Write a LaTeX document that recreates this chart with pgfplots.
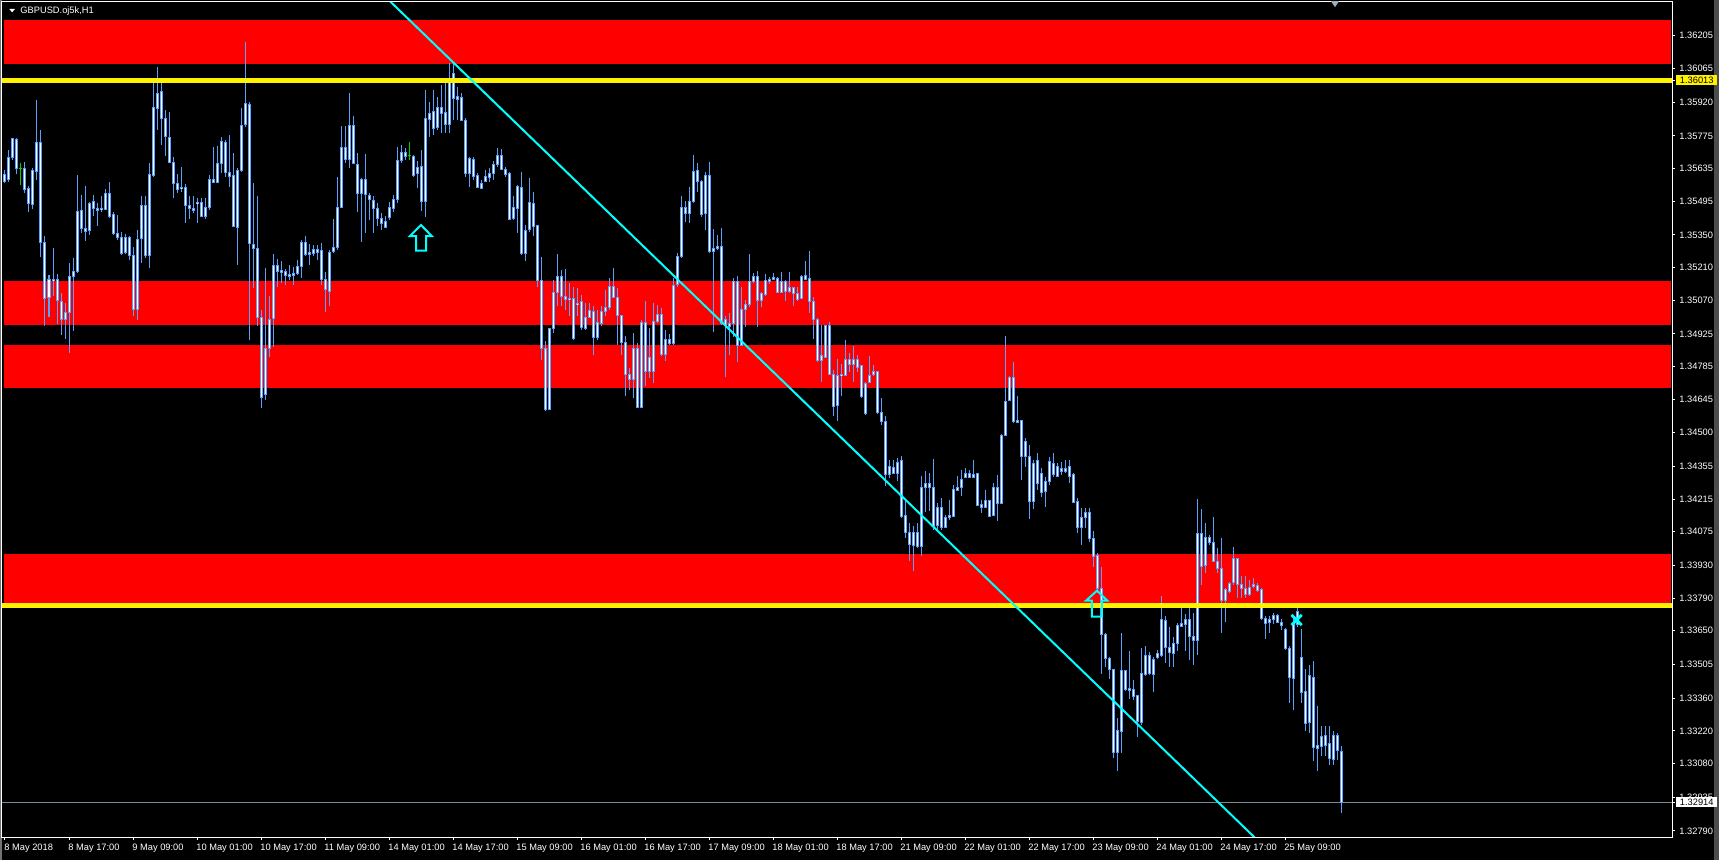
\documentclass[border=0pt]{standalone}
\usepackage{fontspec}
\setmainfont{Liberation Sans}
\usepackage{pgfplots}
\usepackage{pgfplotstable}
\pgfplotsset{compat=1.18}
\definecolor{candle}{RGB}{90,160,255}
\definecolor{trend}{RGB}{0,255,255}
\definecolor{bidc}{RGB}{119,136,153}
\definecolor{doji}{RGB}{0,210,0}
\definecolor{mt}{RGB}{0,0,0}
\newcommand{\ylab}[2]{{\setlength{\fboxsep}{0pt}\colorbox{#1}{\makebox[20.5pt][l]{\rule[-0.8pt]{0pt}{5pt}\hspace{2pt}\textcolor{black}{#2}}}}}
\pgfplotstableread{
i hi top bot lo
0 1.35629 1.35610 1.35579 1.35572
1 1.35715 1.35683 1.35589 1.35575
2 1.35768 1.35762 1.35682 1.35672
3 1.35765 1.35761 1.35637 1.35612
5 1.35662 1.35636 1.35546 1.35529
6 1.35558 1.35549 1.35486 1.35450
7 1.35637 1.35627 1.35482 1.35459
8 1.35929 1.35748 1.35622 1.35586
9 1.35800 1.35748 1.35319 1.35257
10 1.35343 1.35319 1.35078 1.34957
11 1.35178 1.35160 1.35083 1.34997
12 1.35293 1.35160 1.35154 1.35086
13 1.35183 1.35160 1.35066 1.34968
14 1.35100 1.35064 1.34988 1.34921
15 1.35057 1.35018 1.34988 1.34903
16 1.35229 1.35169 1.35017 1.34842
17 1.35249 1.35194 1.35169 1.34935
18 1.35608 1.35452 1.35194 1.35186
19 1.35522 1.35456 1.35376 1.35357
20 1.35560 1.35379 1.35364 1.35322
21 1.35493 1.35486 1.35370 1.35350
22 1.35522 1.35492 1.35465 1.35429
23 1.35486 1.35465 1.35454 1.35389
24 1.35515 1.35465 1.35457 1.35450
25 1.35546 1.35529 1.35460 1.35457
26 1.35575 1.35529 1.35429 1.35422
27 1.35450 1.35436 1.35357 1.35350
28 1.35436 1.35357 1.35340 1.35329
29 1.35364 1.35340 1.35271 1.35264
30 1.35354 1.35340 1.35274 1.35267
31 1.35343 1.35340 1.35261 1.35243
32 1.35297 1.35263 1.35031 1.35000
33 1.35372 1.35332 1.35031 1.34985
34 1.35515 1.35477 1.35334 1.35229
35 1.35515 1.35477 1.35261 1.35250
36 1.35658 1.35610 1.35261 1.35207
37 1.36004 1.35896 1.35606 1.35600
38 1.36072 1.35958 1.35893 1.35800
39 1.36015 1.35964 1.35849 1.35736
40 1.35886 1.35851 1.35772 1.35689
41 1.35879 1.35769 1.35662 1.35658
42 1.35686 1.35662 1.35572 1.35507
43 1.35612 1.35572 1.35546 1.35529
44 1.35643 1.35555 1.35549 1.35532
45 1.35569 1.35555 1.35475 1.35400
46 1.35515 1.35475 1.35465 1.35417
47 1.35515 1.35462 1.35454 1.35443
48 1.35507 1.35490 1.35486 1.35400
49 1.35510 1.35490 1.35429 1.35426
50 1.35507 1.35469 1.35429 1.35417
51 1.35605 1.35586 1.35469 1.35457
52 1.35726 1.35586 1.35576 1.35572
53 1.35732 1.35658 1.35576 1.35572
54 1.35772 1.35753 1.35658 1.35615
55 1.35758 1.35748 1.35618 1.35600
56 1.35779 1.35619 1.35600 1.35557
57 1.35700 1.35606 1.35386 1.35383
58 1.35636 1.35627 1.35382 1.35221
59 1.35893 1.35821 1.35627 1.35622
60 1.36179 1.35915 1.35823 1.35815
61 1.35922 1.35908 1.35314 1.34897
62 1.35572 1.35310 1.35293 1.35121
63 1.35515 1.35293 1.34993 1.34957
64 1.35028 1.34993 1.34651 1.34608
65 1.35207 1.34860 1.34664 1.34642
66 1.35088 1.34988 1.34860 1.34824
67 1.35269 1.35220 1.34991 1.34868
68 1.35246 1.35220 1.35194 1.35128
69 1.35236 1.35196 1.35189 1.35143
70 1.35203 1.35191 1.35177 1.35136
71 1.35221 1.35178 1.35171 1.35154
72 1.35211 1.35186 1.35176 1.35136
73 1.35240 1.35214 1.35186 1.35178
74 1.35329 1.35319 1.35214 1.35164
75 1.35346 1.35319 1.35266 1.35260
76 1.35310 1.35274 1.35267 1.35221
77 1.35307 1.35286 1.35271 1.35257
78 1.35307 1.35289 1.35276 1.35243
79 1.35314 1.35281 1.35157 1.35136
80 1.35189 1.35160 1.35114 1.35017
81 1.35286 1.35276 1.35108 1.35043
82 1.35419 1.35297 1.35279 1.35271
83 1.35600 1.35469 1.35297 1.35286
84 1.35818 1.35726 1.35469 1.35465
85 1.35818 1.35726 1.35675 1.35658
86 1.35958 1.35818 1.35672 1.35636
87 1.35861 1.35818 1.35658 1.35655
88 1.35700 1.35650 1.35529 1.35450
89 1.35593 1.35589 1.35526 1.35321
90 1.35698 1.35589 1.35522 1.35360
91 1.35529 1.35517 1.35503 1.35414
92 1.35515 1.35499 1.35462 1.35360
93 1.35486 1.35462 1.35422 1.35386
94 1.35443 1.35422 1.35400 1.35372
95 1.35429 1.35406 1.35383 1.35379
96 1.35489 1.35467 1.35424 1.35414
97 1.35522 1.35503 1.35464 1.35450
98 1.35729 1.35668 1.35503 1.35486
99 1.35736 1.35705 1.35668 1.35660
100 1.35722 1.35705 1.35686 1.35672
102 1.35693 1.35688 1.35607 1.35600
103 1.35665 1.35639 1.35612 1.35550
104 1.35715 1.35642 1.35493 1.35454
105 1.35972 1.35848 1.35493 1.35426
106 1.35922 1.35872 1.35846 1.35772
107 1.35972 1.35879 1.35808 1.35779
108 1.35944 1.35898 1.35811 1.35801
109 1.35994 1.35898 1.35872 1.35789
110 1.36001 1.35876 1.35825 1.35786
111 1.36087 1.36015 1.35825 1.35786
112 1.36087 1.36044 1.35936 1.35843
113 1.35986 1.35944 1.35932 1.35843
114 1.35958 1.35941 1.35843 1.35841
115 1.35851 1.35843 1.35615 1.35600
116 1.35686 1.35678 1.35615 1.35557
117 1.35686 1.35672 1.35600 1.35586
118 1.35615 1.35603 1.35555 1.35550
119 1.35586 1.35572 1.35549 1.35546
120 1.35629 1.35600 1.35577 1.35575
121 1.35636 1.35612 1.35597 1.35579
122 1.35665 1.35650 1.35615 1.35586
123 1.35722 1.35692 1.35650 1.35643
124 1.35718 1.35692 1.35632 1.35629
125 1.35643 1.35632 1.35610 1.35600
126 1.35618 1.35615 1.35417 1.35413
127 1.35515 1.35469 1.35420 1.35414
128 1.35565 1.35557 1.35464 1.35357
129 1.35619 1.35553 1.35271 1.35264
130 1.35393 1.35367 1.35271 1.35236
131 1.35593 1.35489 1.35372 1.35364
132 1.35536 1.35486 1.35386 1.35343
133 1.35393 1.35389 1.35154 1.35128
134 1.35257 1.35154 1.34864 1.34814
135 1.34892 1.34864 1.34599 1.34592
136 1.34950 1.34947 1.34599 1.34596
137 1.35157 1.35104 1.34947 1.34928
138 1.35269 1.35173 1.35104 1.35043
139 1.35200 1.35173 1.35086 1.35043
140 1.35203 1.35086 1.35071 1.35028
141 1.35143 1.35078 1.35071 1.35000
142 1.35128 1.35078 1.34903 1.34900
143 1.35121 1.35057 1.35050 1.35000
144 1.35093 1.35064 1.34950 1.34943
145 1.35057 1.34995 1.34948 1.34943
146 1.35057 1.35027 1.34997 1.34993
147 1.35043 1.35021 1.34911 1.34835
148 1.35028 1.34975 1.34911 1.34900
149 1.35043 1.35021 1.34968 1.34957
150 1.35114 1.35040 1.35021 1.35000
151 1.35164 1.35128 1.35040 1.35028
152 1.35207 1.35128 1.35083 1.35078
153 1.35121 1.35083 1.35003 1.34878
154 1.35007 1.35003 1.34888 1.34835
155 1.34914 1.34888 1.34749 1.34657
156 1.34778 1.34749 1.34728 1.34685
157 1.34928 1.34860 1.34728 1.34649
158 1.34885 1.34860 1.34609 1.34606
159 1.34985 1.34975 1.34609 1.34606
160 1.35064 1.34975 1.34764 1.34699
161 1.34950 1.34825 1.34764 1.34735
162 1.35057 1.34978 1.34764 1.34714
163 1.35050 1.35010 1.34978 1.34971
164 1.35035 1.35010 1.34835 1.34828
165 1.34943 1.34900 1.34835 1.34807
166 1.34925 1.34900 1.34882 1.34878
167 1.35164 1.35133 1.34882 1.34878
168 1.35271 1.35257 1.35136 1.35128
169 1.35515 1.35469 1.35257 1.35250
170 1.35495 1.35467 1.35443 1.35407
171 1.35557 1.35495 1.35443 1.35400
172 1.35693 1.35621 1.35495 1.35485
173 1.35657 1.35628 1.35578 1.35535
174 1.35586 1.35578 1.35438 1.35425
175 1.35621 1.35606 1.35443 1.35371
176 1.35661 1.35606 1.35278 1.35271
177 1.35374 1.35292 1.35278 1.34931
178 1.35350 1.35302 1.35292 1.35285
179 1.35378 1.35302 1.34971 1.34963
180 1.35002 1.34988 1.34959 1.34738
181 1.35014 1.34971 1.34956 1.34835
182 1.35165 1.35151 1.34971 1.34913
183 1.35174 1.35148 1.34876 1.34806
184 1.35128 1.35031 1.34876 1.34871
185 1.35071 1.35052 1.35031 1.34956
186 1.35268 1.35151 1.35052 1.35042
187 1.35185 1.35172 1.35149 1.35142
188 1.35195 1.35172 1.35068 1.34956
189 1.35106 1.35096 1.35068 1.35042
190 1.35181 1.35155 1.35094 1.35089
191 1.35168 1.35159 1.35151 1.35138
192 1.35188 1.35165 1.35159 1.35157
193 1.35171 1.35162 1.35102 1.35099
194 1.35192 1.35148 1.35102 1.35099
195 1.35157 1.35148 1.35106 1.35064
196 1.35192 1.35125 1.35106 1.35099
197 1.35128 1.35125 1.35099 1.35046
198 1.35128 1.35099 1.35074 1.35068
199 1.35178 1.35172 1.35076 1.35074
200 1.35239 1.35177 1.35159 1.35157
201 1.35281 1.35164 1.35065 1.35016
202 1.35082 1.35065 1.34988 1.34903
203 1.34992 1.34988 1.34810 1.34806
204 1.34963 1.34831 1.34810 1.34716
205 1.34963 1.34959 1.34825 1.34820
206 1.34974 1.34962 1.34752 1.34749
207 1.34770 1.34749 1.34613 1.34570
208 1.34816 1.34748 1.34617 1.34549
209 1.34796 1.34749 1.34746 1.34656
210 1.34899 1.34816 1.34748 1.34742
211 1.34842 1.34816 1.34793 1.34763
212 1.34871 1.34813 1.34793 1.34720
213 1.34835 1.34813 1.34779 1.34763
214 1.34792 1.34788 1.34656 1.34649
215 1.34718 1.34713 1.34582 1.34577
216 1.34831 1.34748 1.34718 1.34713
217 1.34789 1.34762 1.34750 1.34745
218 1.34763 1.34762 1.34585 1.34582
219 1.34649 1.34585 1.34549 1.34534
220 1.34570 1.34549 1.34320 1.34270
221 1.34384 1.34356 1.34320 1.34306
222 1.34384 1.34353 1.34327 1.34323
223 1.34391 1.34374 1.34323 1.34291
224 1.34399 1.34379 1.34141 1.34134
225 1.34213 1.34144 1.34073 1.34048
226 1.34113 1.34073 1.34020 1.33948
227 1.34101 1.34073 1.34015 1.33905
228 1.34113 1.34070 1.34013 1.34005
229 1.34316 1.34267 1.34013 1.33970
230 1.34337 1.34281 1.34267 1.34158
231 1.34327 1.34280 1.34263 1.34163
232 1.34389 1.34263 1.34098 1.34084
233 1.34198 1.34181 1.34101 1.34077
234 1.34220 1.34177 1.34095 1.34084
235 1.34148 1.34138 1.34095 1.34091
236 1.34213 1.34144 1.34137 1.34127
237 1.34277 1.34256 1.34141 1.34138
238 1.34313 1.34267 1.34253 1.34248
239 1.34341 1.34301 1.34263 1.34227
240 1.34349 1.34323 1.34309 1.34306
241 1.34341 1.34323 1.34309 1.34306
242 1.34381 1.34319 1.34309 1.34306
243 1.34326 1.34323 1.34187 1.34184
244 1.34213 1.34191 1.34181 1.34156
245 1.34253 1.34210 1.34181 1.34177
246 1.34213 1.34207 1.34141 1.34138
247 1.34284 1.34267 1.34144 1.34141
248 1.34320 1.34263 1.34198 1.34120
249 1.34496 1.34490 1.34198 1.34196
250 1.34916 1.34635 1.34487 1.34484
251 1.34742 1.34736 1.34639 1.34635
252 1.34806 1.34736 1.34549 1.34542
253 1.34656 1.34553 1.34545 1.34542
254 1.34552 1.34552 1.34399 1.34296
255 1.34476 1.34462 1.34397 1.34354
256 1.34447 1.34397 1.34204 1.34129
257 1.34383 1.34369 1.34204 1.34171
258 1.34412 1.34383 1.34283 1.34254
259 1.34347 1.34323 1.34243 1.34226
260 1.34312 1.34290 1.34247 1.34183
261 1.34397 1.34376 1.34290 1.34276
262 1.34412 1.34369 1.34319 1.34311
263 1.34369 1.34354 1.34314 1.34311
264 1.34376 1.34347 1.34333 1.34319
265 1.34383 1.34347 1.34333 1.34326
266 1.34383 1.34354 1.34311 1.34283
267 1.34326 1.34319 1.34200 1.34197
268 1.34219 1.34203 1.34093 1.34068
269 1.34176 1.34137 1.34093 1.34018
270 1.34176 1.34159 1.34137 1.34090
271 1.34176 1.34159 1.34044 1.34033
272 1.34078 1.34047 1.33968 1.33925
273 1.33983 1.33971 1.33831 1.33811
274 1.33925 1.33832 1.33635 1.33464
275 1.33642 1.33635 1.33529 1.33496
276 1.33539 1.33529 1.33485 1.33442
277 1.33486 1.33482 1.33128 1.33102
278 1.33275 1.33220 1.33128 1.33046
279 1.33642 1.33478 1.33218 1.33125
280 1.33482 1.33478 1.33396 1.33389
281 1.33561 1.33401 1.33393 1.33356
282 1.33439 1.33396 1.33368 1.33353
283 1.33375 1.33371 1.33260 1.33192
284 1.33575 1.33465 1.33256 1.33246
285 1.33585 1.33544 1.33462 1.33454
286 1.33557 1.33544 1.33465 1.33461
287 1.33539 1.33525 1.33464 1.33385
288 1.33568 1.33552 1.33535 1.33528
289 1.33800 1.33697 1.33544 1.33539
290 1.33711 1.33692 1.33578 1.33511
291 1.33668 1.33579 1.33557 1.33496
292 1.33625 1.33597 1.33552 1.33496
293 1.33682 1.33672 1.33597 1.33561
294 1.33747 1.33681 1.33669 1.33668
295 1.33722 1.33697 1.33678 1.33561
296 1.33747 1.33697 1.33625 1.33522
297 1.33725 1.33625 1.33608 1.33504
298 1.34214 1.34066 1.33608 1.33546
299 1.34171 1.34066 1.33925 1.33847
300 1.34111 1.34051 1.33930 1.33897
301 1.34061 1.34051 1.34028 1.34018
302 1.34140 1.34030 1.33947 1.33943
303 1.34007 1.33947 1.33917 1.33897
304 1.34047 1.33917 1.33781 1.33642
305 1.33832 1.33825 1.33781 1.33688
306 1.33858 1.33854 1.33818 1.33811
307 1.34011 1.33961 1.33857 1.33847
308 1.33964 1.33961 1.33850 1.33790
309 1.33883 1.33850 1.33830 1.33790
310 1.33883 1.33830 1.33807 1.33790
311 1.33868 1.33835 1.33804 1.33797
312 1.33875 1.33850 1.33840 1.33832
313 1.33854 1.33844 1.33822 1.33818
314 1.33832 1.33828 1.33702 1.33697
315 1.33715 1.33704 1.33682 1.33614
316 1.33711 1.33697 1.33687 1.33639
317 1.33725 1.33717 1.33697 1.33679
318 1.33721 1.33717 1.33685 1.33682
319 1.33700 1.33687 1.33672 1.33654
320 1.33661 1.33657 1.33575 1.33568
321 1.33585 1.33575 1.33451 1.33339
322 1.33711 1.33675 1.33446 1.33311
323 1.33771 1.33732 1.33675 1.33668
324 1.33657 1.33535 1.33385 1.33339
325 1.33485 1.33389 1.33253 1.33218
326 1.33504 1.33456 1.33256 1.33210
327 1.33518 1.33451 1.33150 1.33089
328 1.33325 1.33156 1.33146 1.33046
329 1.33239 1.33196 1.33153 1.33110
330 1.33239 1.33199 1.33158 1.33110
331 1.33239 1.33165 1.33103 1.33075
332 1.33218 1.33202 1.33099 1.33072
333 1.33210 1.33202 1.33135 1.33096
334 1.33153 1.33132 1.32914 1.32867
}\candles
\pgfplotstableread{
i hi cl lo
4 1.35657 1.35637 1.35562
101 1.35750 1.35689 1.35672
}\dojis
\begin{document}
\begin{tikzpicture}
\fill[black] (0,0) rectangle (859.5pt,-430pt);
\useasboundingbox (0,0) rectangle (859.5pt,-430pt);
\fill[black!70] (857pt,0) rectangle (859.5pt,-430pt);
\fill[black!55] (0,0) rectangle (0.8pt,-430pt);
\begin{axis}[
  at={(1pt,-1pt)}, anchor=north west,
  scale only axis, width=835pt, height=417.5pt,
  xmin=-0.75, xmax=416.75, ymin=1.32764, ymax=1.36350,
  axis background/.style={fill=black},
  axis line style={white, line width=0.5pt},
  axis on top,
  tick align=outside,
  major tick length=1.5pt,
  tick style={white, line width=0.5pt},
  xtick pos=bottom, ytick pos=right, yticklabel pos=right,
  xtick={0,16,...,320},
  xticklabels={8 May 2018,8 May 17:00,9 May 09:00,10 May 01:00,10 May 17:00,11 May 09:00,14 May 01:00,14 May 17:00,15 May 09:00,16 May 01:00,16 May 17:00,17 May 09:00,18 May 01:00,18 May 17:00,21 May 09:00,22 May 01:00,22 May 17:00,23 May 09:00,24 May 01:00,24 May 17:00,25 May 09:00},
  ytick={1.32790,1.32935,1.33080,1.33220,1.33360,1.33505,1.33650,1.33790,1.33930,1.34075,1.34215,1.34355,1.34500,1.34645,1.34785,1.34925,1.35070,1.35210,1.35350,1.35495,1.35635,1.35775,1.35920,1.36065,1.36205},
  yticklabels={1.32790,1.32935,1.33080,1.33220,1.33360,1.33505,1.33650,1.33790,1.33930,1.34075,1.34215,1.34355,1.34500,1.34645,1.34785,1.34925,1.35070,1.35210,1.35350,1.35495,1.35635,1.35775,1.35920,1.36065,1.36205},
  ticklabel style={font=\fontsize{4.65}{5}\selectfont, text=white},
  xticklabel style={anchor=north west, inner sep=0pt, xshift=-0.5pt, yshift=-2pt},
  yticklabel style={anchor=west, inner sep=0pt, xshift=2pt},
  extra y ticks={1.36013,1.32914},
  extra y tick labels={\ylab{yellow}{1.36013},\ylab{white}{1.32914}},
  extra y tick style={yticklabel style={xshift=-1.75pt}},
]
% red zones
\addplot[draw=none, fill=red] coordinates {(-0.25,1.36083) (416.5,1.36083) (416.5,1.36272) (-0.25,1.36272)} -- cycle;
\addplot[draw=none, fill=red] coordinates {(-0.25,1.34963) (416.5,1.34963) (416.5,1.35152) (-0.25,1.35152)} -- cycle;
\addplot[draw=none, fill=red] coordinates {(-0.25,1.34694) (416.5,1.34694) (416.5,1.34877) (-0.25,1.34877)} -- cycle;
\addplot[draw=none, fill=red] coordinates {(-0.25,1.33752) (416.5,1.33752) (416.5,1.33979) (-0.25,1.33979)} -- cycle;
% bid line
\addplot[bidc, line width=0.5pt] coordinates {(-0.75,1.32914) (416.75,1.32914)};
% wicks
\addplot[draw=none, mark=none, error bars/.cd, y dir=minus, y explicit, error mark=none,
  error bar style={draw=candle, line width=0.5pt}]
  table[x=i, y=hi, y error minus expr=\thisrow{hi}-\thisrow{lo}] {\candles};
% bodies
\addplot[draw=none, mark=none, error bars/.cd, y dir=minus, y explicit, error mark=none,
  error bar style={draw=candle, line width=1.5pt, shorten <=-0.25pt, shorten >=-0.25pt}]
  table[x=i, y=top, y error minus expr=\thisrow{top}-\thisrow{bot}] {\candles};
\addplot[draw=none, mark=none, error bars/.cd, y dir=minus, y explicit, error mark=none,
  error bar style={draw=white, line width=0.5pt, shorten <=0.25pt, shorten >=0.25pt}]
  table[x=i, y=top, y error minus expr=\thisrow{top}-\thisrow{bot}] {\candles};
% doji candles
\addplot[draw=none, mark=none, error bars/.cd, y dir=minus, y explicit, error mark=none,
  error bar style={draw=doji, line width=0.5pt}]
  table[x=i, y=hi, y error minus expr=\thisrow{hi}-\thisrow{lo}] {\dojis};
\addplot[only marks, mark=-, mark size=0.75pt, mark options={draw=doji, line width=0.5pt}]
  table[x=i, y=cl] {\dojis};
% yellow levels
\addplot[yellow, line width=2.3pt] coordinates {(-0.75,1.36013) (416.75,1.36013)};
\addplot[yellow, line width=2.3pt] coordinates {(-0.75,1.33759) (416.75,1.33759)};
% trend line
\addplot[trend, line width=1pt] coordinates {(90,1.36457) (320,1.32636)};
% arrows
\addplot[trend, line width=1pt] coordinates {(104,1.35392) (106.7,1.35345) (105.25,1.35345) (105.25,1.35282) (102.75,1.35282) (102.75,1.35345) (101.25,1.35345)} -- cycle;
\addplot[trend, line width=1pt] coordinates {(273,1.33822) (275.6,1.33779) (274.2,1.33779) (274.2,1.33710) (271.7,1.33710) (271.7,1.33779) (270.25,1.33779)} -- cycle;
\addplot[only marks, mark=x, mark size=3.6pt, mark options={draw=trend, line width=1.4pt}] coordinates {(322.9,1.33696)};
\end{axis}
% chart title
\fill[white] (4.65pt,-4.5pt) -- (7.5pt,-4.5pt) -- (6.07pt,-6.15pt) -- cycle;
\node[anchor=base west, inner sep=0pt, text=white, font=\fontsize{4.65}{5}\selectfont] at (10pt,-7pt) {GBPUSD.oj5k,H1};
% shift marker
\fill[bidc!70!white] (665.5pt,-0.6pt) -- (669.5pt,-0.6pt) -- (667.5pt,-3.6pt) -- cycle;
\end{tikzpicture}
\end{document}
